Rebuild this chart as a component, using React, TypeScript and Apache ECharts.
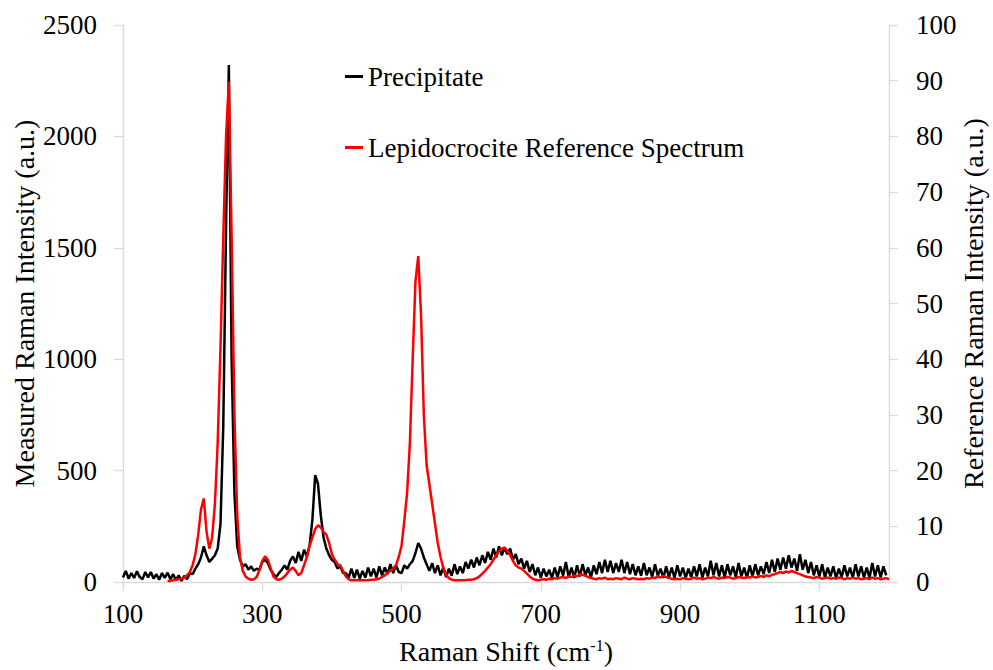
import React, { useEffect, useRef } from "react";
import * as echarts from "echarts";

// Raman shift grid (cm^-1)
const precipitateStart = 100;
const referenceStart = 164;
const shiftStep = 4;

// Measured Raman intensity of the precipitate (left axis, a.u.), from 100 cm^-1 every 4 cm^-1
const precipitateValues = [
  20, 50, 15, 40, 18, 48, 22, 12, 45, 20,
  45, 15, 35, 10, 40, 18, 42, 12, 35, 8,
  30, 5, 28, 12, 40, 35, 60, 80, 110, 160,
  120, 90, 105, 120, 150, 260, 700, 1600, 2320, 1000,
  400, 160, 100, 70, 80, 55, 70, 50, 60, 55,
  90, 100, 85, 55, 35, 22, 40, 55, 75, 55,
  95, 115, 85, 135, 95, 145, 115, 165, 280, 480,
  440, 300, 200, 150, 120, 100, 90, 60, 70, 40,
  40, 20, 60, 18, 55, 15, 50, 20, 65, 25,
  60, 20, 70, 30, 65, 35, 80, 40, 75, 45,
  40, 75, 60, 80, 95, 130, 175, 150, 110, 80,
  50, 85, 40, 75, 30, 65, 22, 60, 28, 80,
  35, 70, 40, 90, 60, 100, 65, 110, 75, 120,
  85, 135, 100, 150, 110, 160, 120, 155, 125, 150,
  100, 125, 80, 105, 60, 95, 45, 80, 30, 65,
  20, 60, 25, 55, 18, 65, 22, 70, 28, 90,
  22, 65, 18, 75, 25, 80, 30, 65, 20, 75,
  35, 90, 40, 100, 45, 95, 40, 85, 45, 100,
  40, 90, 35, 80, 30, 70, 28, 85, 30, 65,
  22, 80, 28, 60, 18, 70, 22, 65, 18, 75,
  25, 65, 18, 60, 22, 70, 25, 80, 20, 65,
  25, 95, 30, 85, 25, 75, 20, 80, 30, 70,
  22, 85, 25, 65, 18, 75, 25, 80, 30, 70,
  35, 90, 40, 100, 45, 105, 55, 110, 60, 120,
  65, 105, 50, 125, 55, 100, 40, 90, 30, 75,
  25, 80, 20, 65, 25, 70, 18, 60, 22, 75,
  25, 65, 18, 80, 25, 70, 20, 65, 18, 85,
  25, 75, 20, 70, 30,
];

// Lepidocrocite reference spectrum (right axis, a.u.), from 164 cm^-1 every 4 cm^-1
const referenceValues = [
  0.2, 0.2, 0.3, 0.4, 0.5, 0.6, 0.8, 1.2, 1.8, 3.0,
  5.0, 8.5, 13.0, 15.0, 9.0, 6.0, 8.0, 14.0, 25.0, 42.0,
  62.0, 80.0, 89.8, 62.0, 30.0, 12.0, 4.5, 2.0, 1.0, 0.6,
  0.4, 0.5, 0.9, 2.2, 3.8, 4.6, 4.0, 2.5, 1.0, 0.5,
  0.4, 0.6, 1.0, 1.6, 2.2, 2.6, 2.0, 1.2, 1.6, 3.0,
  4.5, 6.5, 8.0, 9.5, 10.2, 9.8, 9.0, 8.5, 7.0, 5.0,
  4.0, 3.2, 3.0, 2.0, 1.0, 0.5, 0.3, 0.3, 0.3, 0.3,
  0.3, 0.3, 0.3, 0.4, 0.4, 0.5, 0.6, 0.9, 1.2, 1.6,
  2.0, 2.4, 3.0, 4.5, 6.5, 11.0, 16.0, 25.0, 40.0, 54.0,
  58.5, 48.0, 30.0, 21.0, 17.5, 14.0, 10.5, 7.0, 4.5, 2.5,
  1.3, 0.7, 0.4, 0.3, 0.3, 0.3, 0.3, 0.3, 0.4, 0.4,
  0.5, 0.7, 1.0, 1.5, 2.0, 2.6, 3.2, 4.0, 4.8, 5.5,
  6.0, 6.2, 5.6, 4.8, 3.8, 3.0, 2.6, 2.4, 2.0, 1.5,
  1.0, 0.6, 0.4, 0.3, 0.4, 0.5, 0.4, 0.6, 0.5, 0.7,
  0.6, 0.8, 0.9, 0.7, 1.0, 0.9, 1.2, 1.0, 1.4, 1.3,
  1.1, 0.9, 0.7, 0.6, 0.5, 0.7, 0.6, 0.8, 0.5, 0.6,
  0.5, 0.7, 0.6, 0.5, 0.8, 0.6, 0.5, 0.7, 0.6, 0.5,
  0.6, 0.5, 0.7, 0.6, 0.8, 0.7, 1.0, 0.8, 1.1, 0.9,
  0.7, 0.6, 0.5, 0.6, 0.5, 0.7, 0.6, 0.5, 0.6, 0.8,
  0.6, 0.7, 0.5, 0.6, 0.8, 0.7, 0.9, 0.7, 0.6, 0.8,
  0.7, 0.9, 0.8, 0.6, 0.7, 0.9, 0.8, 0.7, 0.9, 0.8,
  1.0, 0.8, 0.9, 1.1, 0.9, 1.2, 1.0, 1.3, 1.4, 1.6,
  1.8, 1.6, 1.9, 1.7, 2.0, 1.8, 1.6, 1.4, 1.2, 1.0,
  0.9, 0.8, 0.7, 0.9, 0.8, 0.6, 0.7, 0.8, 0.6, 0.7,
  0.6, 0.8, 0.7, 0.5, 0.7, 0.6, 0.8, 0.6, 0.7, 0.5,
  0.6, 0.7, 0.5, 0.8, 0.6, 0.7, 0.5, 0.6, 0.7, 0.5,
];

const shiftTicks = [100, 300, 500, 700, 900, 1100];
const seriesNames = ["Precipitate", "Lepidocrocite Reference Spectrum"];

const FONT = '"Liberation Serif", "DejaVu Serif", serif';

function toPairs(start: number, values: number[]) {
  return values.map((v, i) => [start + i * shiftStep, v]);
}

export default function App() {
  const ref = useRef<HTMLDivElement>(null);

  useEffect(() => {
    if (!ref.current) return;
    const chart = echarts.init(ref.current, undefined, { renderer: "svg" });
    const axisLineStyle = { color: "#d9d9d9", width: 1.3 };
    const plain = (v: number) => String(v);
    chart.setOption({
      animation: false,
      backgroundColor: "#ffffff",
      textStyle: { fontFamily: FONT },
      grid: { left: 123, right: 104, top: 25, bottom: 88, containLabel: false, outerBoundsMode: "none" },
      legend: {
        orient: "vertical",
        left: 340,
        top: 58,
        itemGap: 44,
        itemWidth: 18,
        itemHeight: 3,
        icon: "rect",
        data: seriesNames,
        textStyle: { fontFamily: FONT, fontSize: 27, color: "#000" },
      },
      xAxis: {
        type: "value",
        min: 100,
        max: 1200,
        interval: 200,
        name: "{n|Raman Shift (cm}{s|-1}{n|)}",
        nameLocation: "middle",
        nameGap: 55,
        nameMoveOverlap: false,
        nameTextStyle: {
          rich: {
            n: { fontFamily: FONT, fontSize: 28, color: "#000", lineHeight: 28, verticalAlign: "bottom" },
            s: { fontFamily: FONT, fontSize: 16, color: "#000", lineHeight: 28, verticalAlign: "top", padding: [0, 0, 12, 0] },
          },
        },
        axisLine: { show: true, lineStyle: axisLineStyle },
        axisTick: { show: true, length: 9, lineStyle: axisLineStyle, customValues: shiftTicks },
        axisLabel: {
          customValues: shiftTicks,
          formatter: plain,
          margin: 18,
          fontFamily: FONT,
          fontSize: 27,
          color: "#000",
        },
        splitLine: { show: false },
      },
      yAxis: [
        {
          type: "value",
          min: 0,
          max: 2500,
          interval: 500,
          position: "left",
          name: "Measured Raman Intensity (a.u.)",
          nameLocation: "middle",
          nameGap: 85,
          nameMoveOverlap: false,
          nameTextStyle: { fontFamily: FONT, fontSize: 28, color: "#000" },
          axisLine: { show: true, lineStyle: axisLineStyle },
          axisTick: { show: true, length: 9, lineStyle: axisLineStyle },
          axisLabel: { formatter: plain, margin: 26, fontFamily: FONT, fontSize: 27, color: "#000" },
          splitLine: { show: false },
        },
        {
          type: "value",
          min: 0,
          max: 100,
          interval: 10,
          position: "right",
          name: "Reference Raman Intensity (a.u.)",
          nameLocation: "middle",
          nameGap: 70,
          nameMoveOverlap: false,
          nameTextStyle: { fontFamily: FONT, fontSize: 28, color: "#000" },
          axisLine: { show: true, lineStyle: axisLineStyle },
          axisTick: { show: true, length: 9, lineStyle: axisLineStyle },
          axisLabel: { formatter: plain, margin: 27, fontFamily: FONT, fontSize: 27, color: "#000" },
          splitLine: { show: false },
        },
      ],
      series: [
        {
          name: seriesNames[0],
          type: "line",
          yAxisIndex: 0,
          data: toPairs(precipitateStart, precipitateValues),
          showSymbol: false,
          symbol: "none",
          lineStyle: { color: "#000000", width: 2.5 },
          itemStyle: { color: "#000000" },
          z: 2,
        },
        {
          name: seriesNames[1],
          type: "line",
          yAxisIndex: 1,
          data: toPairs(referenceStart, referenceValues),
          showSymbol: false,
          symbol: "none",
          lineStyle: { color: "#ff0000", width: 2.5 },
          itemStyle: { color: "#ff0000" },
          z: 3,
        },
      ],
    });
    return () => chart.dispose();
  }, []);

  return <div ref={ref} style={{ width: 993, height: 670, position: "absolute", left: 0, top: 0 }} />;
}
